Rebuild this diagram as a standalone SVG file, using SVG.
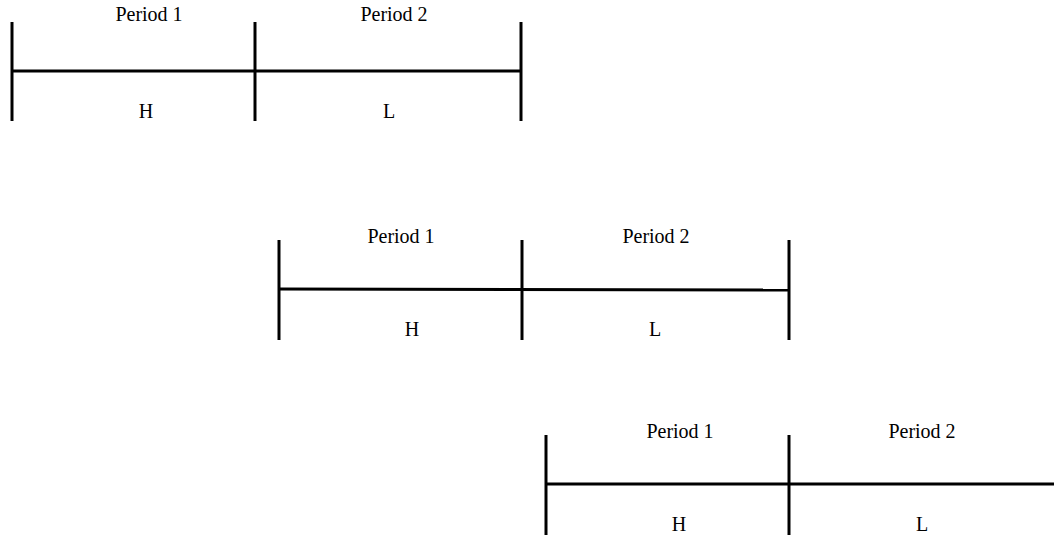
<svg xmlns="http://www.w3.org/2000/svg" width="1054" height="537" viewBox="0 0 1054 537">
<style>
.ln{stroke:#000;stroke-width:3;fill:none;stroke-linecap:butt}
.t{font-family:"Liberation Serif","Times New Roman",serif;font-size:20px;fill:#000;text-anchor:middle}
</style>
<rect width="1054" height="537" fill="#fff"/>
<g id="timeline1">
<g class="ln"><line x1="12" y1="22" x2="12" y2="121"/><line x1="255" y1="22" x2="255" y2="121"/><line x1="521" y1="22" x2="521" y2="121"/><line x1="12" y1="71" x2="521" y2="71"/></g>
<text class="t" x="149" y="21">Period 1</text><text class="t" x="394" y="21">Period 2</text>
<text class="t" x="146" y="118">H</text><text class="t" x="389" y="118">L</text>
</g>
<g id="timeline2">
<g class="ln"><line x1="279" y1="240" x2="279" y2="340"/><line x1="522" y1="240" x2="522" y2="340"/><line x1="789" y1="240" x2="789" y2="340"/><line x1="279" y1="289" x2="789" y2="290"/></g>
<text class="t" x="401" y="243">Period 1</text><text class="t" x="656" y="243">Period 2</text>
<text class="t" x="412" y="336">H</text><text class="t" x="655" y="336">L</text>
</g>
<g id="timeline3">
<g class="ln"><line x1="546" y1="435" x2="546" y2="535"/><line x1="789" y1="435" x2="789" y2="535"/><line x1="546" y1="484" x2="1054" y2="484"/></g>
<text class="t" x="680" y="438">Period 1</text><text class="t" x="922" y="438">Period 2</text>
<text class="t" x="679" y="531">H</text><text class="t" x="922" y="531">L</text>
</g>
</svg>
